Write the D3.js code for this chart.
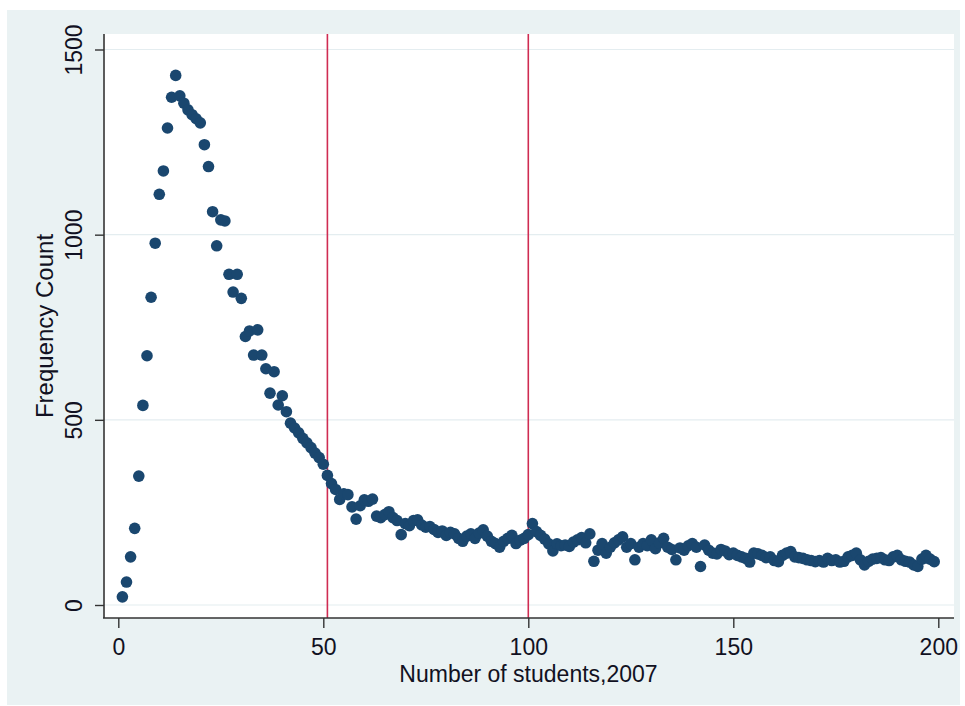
<!DOCTYPE html>
<html>
<head>
<meta charset="utf-8">
<script src="https://cdn.jsdelivr.net/npm/d3@7"></script>
<style>
  html, body { margin: 0; padding: 0; background: #ffffff; }
  svg { display: block; }
  text { font-family: "Liberation Sans", Arial, sans-serif; fill: #111122; }
</style>
</head>
<body>
<svg id="chart" width="965" height="706"></svg>
<script>
// Class size (number of students, 2007) and how many schools have it
const students = d3.range(1, 200);
const counts = [
  22, 62, 130, 207, 348, 539, 673, 831, 977, 1109,
  1172, 1288, 1371, 1430, 1375, 1355, 1337, 1324, 1313, 1302,
  1243, 1184, 1062, 970, 1040, 1037, 893, 845, 893, 828,
  725, 740, 675, 743, 675, 638, 572, 630, 540, 565,
  522, 491, 478, 465, 450, 438, 425, 410, 398, 380,
  350, 328, 312, 285, 300, 298, 265, 232, 268, 284,
  280, 286, 240, 236, 244, 252, 236, 228, 190, 220,
  214, 228, 230, 216, 210, 212, 204, 196, 200, 188,
  196, 192, 180, 172, 186, 192, 180, 194, 203, 186,
  172, 166, 156, 172, 180, 188, 166, 175, 180, 190,
  220, 198, 188, 178, 165, 146, 165, 160, 162, 158,
  170, 176, 182, 168, 192, 118, 148, 166, 140, 156,
  168, 176, 184, 156, 166, 122, 156, 166, 160, 176,
  152, 168, 180, 156, 150, 122, 154, 148, 160, 166,
  156, 104, 162, 148, 140, 138, 150, 146, 136, 140,
  134, 130, 126, 116, 140, 138, 134, 128, 130, 120,
  117, 134, 140, 144, 130, 128, 126, 122, 120, 117,
  120, 116, 126, 120, 122, 116, 118, 130, 134, 140,
  122, 108, 118, 124, 126, 128, 122, 120, 130, 134,
  122, 118, 116, 108, 104, 124, 134, 124, 117
];
const xTicks = [0, 50, 100, 150, 200];
const yTicks = [0, 500, 1000, 1500];
const refLines = [51, 100];
const xTitle = "Number of students,2007";
const yTitle = "Frequency Count";

const svg = d3.select("#chart");

// outer graph region and inner plot region
const outer = { x0: 7, y0: 10, x1: 960, y1: 705 };
const plot = { x0: 103, y0: 34, x1: 954, y1: 618 };

svg.append("rect")
  .attr("x", outer.x0).attr("y", outer.y0)
  .attr("width", outer.x1 - outer.x0).attr("height", outer.y1 - outer.y0)
  .attr("fill", "#eaf2f3");

svg.append("rect")
  .attr("x", plot.x0).attr("y", plot.y0)
  .attr("width", plot.x1 - plot.x0).attr("height", plot.y1 - plot.y0)
  .attr("fill", "#ffffff");

const x = d3.scaleLinear().domain([0, 200]).range([118.3, 938.3]);
const y = d3.scaleLinear().domain([0, 1500]).range([605, 49.5]);

// horizontal grid lines
svg.append("g")
  .selectAll("line")
  .data(yTicks)
  .join("line")
  .attr("x1", plot.x0 + 1).attr("x2", plot.x1)
  .attr("y1", d => y(d)).attr("y2", d => y(d))
  .attr("stroke", "#e4edf0")
  .attr("stroke-width", 1.2);

// reference lines
svg.append("g")
  .selectAll("line")
  .data(refLines)
  .join("line")
  .attr("x1", d => x(d)).attr("x2", d => x(d))
  .attr("y1", plot.y0).attr("y2", plot.y1)
  .attr("stroke", "#cf2c52")
  .attr("stroke-width", 1.6);

// markers
svg.append("g")
  .selectAll("circle")
  .data(students.map((s, i) => [s, counts[i]]))
  .join("circle")
  .attr("cx", d => x(d[0]))
  .attr("cy", d => y(d[1]))
  .attr("r", 5.8)
  .attr("fill", "#1a476f");

// y axis
const yAxis = d3.axisLeft(y).tickValues(yTicks).tickSize(9).tickFormat(d3.format("d"));
const gy = svg.append("g").attr("transform", `translate(${plot.x0 + 1},0)`).call(yAxis);
gy.select(".domain").attr("d", `M0,${plot.y0}V${plot.y1}`).attr("stroke", "#333").attr("stroke-width", 1.6);
gy.selectAll(".tick line").attr("stroke", "#333").attr("stroke-width", 1.4);
gy.selectAll(".tick text")
  .attr("x", 0).attr("y", 0)
  .attr("transform", "translate(-22,0) rotate(-90)")
  .attr("text-anchor", "middle")
  .attr("dy", 0)
  .style("font-size", "23px")
  .style("font-family", "'Liberation Sans', Arial, sans-serif")
  .attr("fill", "#111122");

// x axis
const xAxis = d3.axisBottom(x).tickValues(xTicks).tickSize(10).tickFormat(d3.format("d"));
const gx = svg.append("g").attr("transform", `translate(0,${plot.y1})`).call(xAxis);
gx.select(".domain").attr("d", `M${plot.x0},0H${plot.x1}`).attr("stroke", "#333").attr("stroke-width", 1.6);
gx.selectAll(".tick line").attr("stroke", "#333").attr("stroke-width", 1.4);
gx.selectAll(".tick text")
  .attr("y", 37).attr("dy", 0)
  .style("font-size", "23px")
  .style("font-family", "'Liberation Sans', Arial, sans-serif")
  .attr("fill", "#111122");

// axis titles
svg.append("text")
  .attr("x", (plot.x0 + plot.x1) / 2)
  .attr("y", 682)
  .attr("text-anchor", "middle")
  .style("font-size", "23px")
  .text(xTitle);

svg.append("text")
  .attr("transform", `translate(53,${(plot.y0 + plot.y1) / 2}) rotate(-90)`)
  .attr("text-anchor", "middle")
  .style("font-size", "24px")
  .text(yTitle);
</script>
</body>
</html>
